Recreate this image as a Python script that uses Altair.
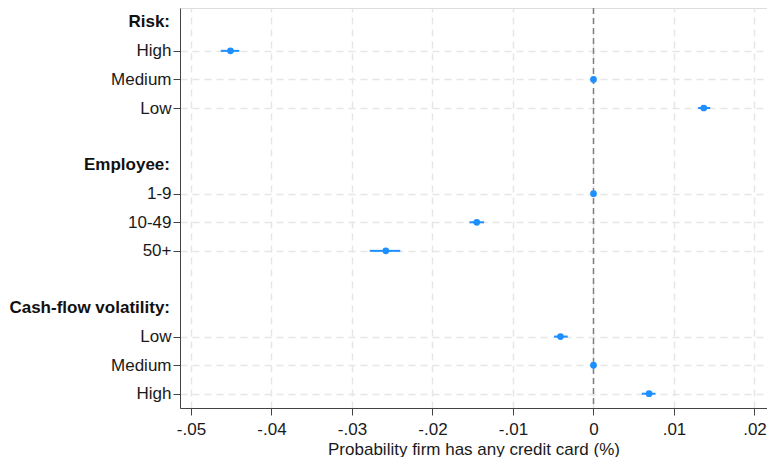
import altair as alt
import pandas as pd

# ---- data ----
groups = ["Risk:", "Employee:", "Cash-flow volatility:"]
group_items = [["High", "Medium", "Low"], ["1-9", "10-49", "50+"], ["Low", "Medium", "High"]]
estimates = [-0.0451, 0.0, 0.0137, 0.0, -0.0145, -0.0258, -0.0041, 0.0, 0.0069]
ci_low = [-0.0463, 0.0, 0.0130, 0.0, -0.0154, -0.0278, -0.0049, 0.0, 0.0060]
ci_high = [-0.0440, 0.0, 0.0145, 0.0, -0.0136, -0.0240, -0.0032, 0.0, 0.0077]
x_ticks = [-0.05, -0.04, -0.03, -0.02, -0.01, 0.0, 0.01, 0.02]
x_title = "Probability firm has any credit card (%)"

# ---- build tables (row order: header, items, blank spacer) ----
rows, labels, hdr_rows = [], [], []
row_labels = []
r = 0
for g, items in zip(groups, group_items):
    hdr_rows.append(r)
    row_labels.append("")
    r += 1
    for it in items:
        rows.append(r)
        labels.append(it)
        row_labels.append(it)
        r += 1
    row_labels.append("")
    r += 1
n_rows = r - 1  # last spacer not used
row_labels = row_labels[:n_rows]

df = pd.DataFrame({"row": rows, "label": labels, "est": estimates,
                   "lo": ci_low, "hi": ci_high})
hdr = pd.DataFrame({"row": hdr_rows, "group": groups})

FONT = "Helvetica, Liberation Sans, Arial"
BLUE = "#1e8fff"
FS = 17

label_arr = "[" + ",".join("'" + s + "'" for s in row_labels) + "]"

y_enc = alt.Y(
    "row:Q",
    scale=alt.Scale(domain=[-0.5, n_rows - 0.5], reverse=True, nice=False, zero=False),
    axis=alt.Axis(values=rows, labelExpr=label_arr + "[datum.value]", title=None,
                  tickSize=7, labelPadding=2, grid=True, gridDash=[7, 5],
                  gridColor="#e6e6e6", gridWidth=1.5, domainColor="#444",
                  tickColor="#444", labelFont=FONT, labelFontSize=FS,
                  labelColor="#1a1a1a"),
)

x_scale = alt.Scale(domain=[-0.051366, 0.021553], nice=False, zero=False)
x_axis = alt.Axis(values=x_ticks,
                  labelExpr="datum.value == 0 ? '0' : (datum.value < 0 ? '-' : '') + '.0' + round(abs(datum.value) * 100)",
                  title=x_title, titleFont=FONT, titleFontSize=FS, titleFontWeight="normal",
                  titleColor="#1a1a1a", titlePadding=4, tickSize=7, labelPadding=6,
                  grid=True, gridDash=[7, 5], gridColor="#e6e6e6", gridWidth=1.5,
                  domainColor="#444", tickColor="#444", labelFont=FONT, labelFontSize=FS,
                  labelColor="#1a1a1a", labelFlush=False)

base = alt.Chart(df)

bars = base.mark_rule(color=BLUE, strokeWidth=2).encode(
    x=alt.X("lo:Q", scale=x_scale, axis=x_axis),
    x2="hi:Q",
    y=y_enc,
)

zero = alt.Chart(pd.DataFrame({"z": [0.0]})).mark_rule(
    color="#808080", strokeWidth=1.5, strokeDash=[6, 4]
).encode(x=alt.X("z:Q", scale=x_scale, axis=x_axis))

pts = base.mark_circle(color=BLUE, size=45, opacity=1).encode(
    x=alt.X("est:Q", scale=x_scale, axis=x_axis),
    y=y_enc,
)

heads = alt.Chart(hdr).mark_text(
    align="right", baseline="middle", font=FONT, fontSize=FS, fontWeight="bold", color="#111"
).encode(x=alt.value(-10), y=y_enc, text="group:N")

chart = alt.layer(zero, bars, pts, heads).properties(
    width=587, height=400,
    autosize=alt.AutoSizeParams(type="none"),
    padding={"left": 172, "top": 0, "right": 0, "bottom": 49},
).configure_view(stroke=None).configure(background="white")

chart.save("out.html", embed_options={"renderer": "svg", "actions": False})
